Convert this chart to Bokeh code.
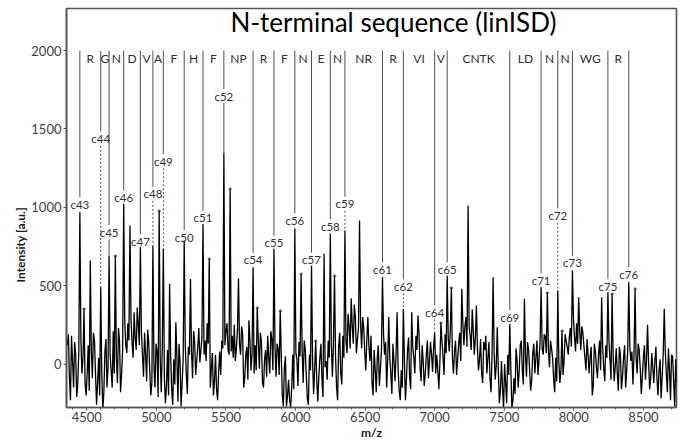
from bokeh.plotting import figure
from bokeh.models import Range1d, SingleIntervalTicker, Label, ColumnDataSource, Title
from bokeh.embed import file_html
from bokeh.resources import INLINE
from bokeh.core.properties import value

# ---------------- data ----------------
# spectrum: main samples every 15 m/z starting at 4360, plus the
# in-between samples (at +7.5 m/z) read from the noise band
MZ_START = 4360
MZ_STEP = 15
intensity = [
    120, -80, 180, -150, 60, -120, 969, -60, 354, -200,
    120, 660, -90, 150, -260, 40, 490, -290, 80, -150,
    690, -40, 210, 692, -120, 150, -60, 1022, 120, 260,
    884, 140, 330, 90, 250, 745, 60, 200, -110, 140,
    -200, 756, -150, 80, 979, -180, 735, -250, 90, 513,
    -160, 30, 267, -240, 20, -120, 788, -60, 110, 543,
    -90, 140, 20, 230, 90, 894, 150, 260, 671, -30,
    -200, 60, -230, 80, 150, 1350, 210, 90, 1118, 180,
    250, 100, 545, 60, 190, -90, 110, 280, -40, 618,
    120, 363, -30, 140, -150, 90, 180, -60, 160, 735,
    -80, 100, 341, -200, -20, -270, -100, -280, 60, 862,
    30, 140, 575, -120, 90, -220, 60, 628, -190, 150,
    -240, 40, -100, 703, 20, 150, 830, -80, 565, -150,
    110, -60, 180, 852, 70, 240, 420, 130, 300, 160,
    916, 100, 230, -40, 300, 20, -120, 90, -180, 120,
    -30, 554, 60, -150, 300, -60, 130, -110, 330, -170,
    -40, 352, -230, 90, -80, 330, 40, 180, 310, -20,
    120, -140, 60, -90, 140, -50, 200, 60, -160, 267,
    50, 190, 565, 80, 490, -60, 150, 30, 200, 480,
    120, 300, 1011, 180, 350, 60, 373, -40, 160, -120,
    90, -60, 140, -180, 554, -100, 235, -250, 20, -290,
    -120, 60, 256, -280, -90, 100, -150, 120, -40, 416,
    -80, 90, -170, 70, -60, 150, 30, 490, 60, 180,
    458, -20, 100, -90, 40, 469, -120, 214, 20, 150,
    60, 230, 597, 170, 260, 426, 90, 200, 40, 160,
    -60, 110, -140, 80, -90, 150, 426, -30, 120, 458,
    30, 448, -110, 100, -170, 60, -80, 120, -40, 522,
    20, -130, 480, -60, 90, -190, 40, -100, 250, -160,
    70, -120, 110, -200, 30, -80, 352, -60, 100, -230,
    50, -270, -120,
]
intensity_mid = [
    190, -230, 20, 140, -210, 80, 150, 40, -120, -60,
    -170, 90, 200, -60, -120, -200, -50, -180, 160, -20,
    60, -150, -60, 40, 230, -180, 90, 280, 70, 150,
    290, 40, 170, 360, 120, 200, -80, 60, 220, -50,
    -120, -20, 130, -210, 30, 110, -90, -140, -200, 60,
    -260, -130, 40, 130, -270, 30, 120, -190, 60, 80,
    210, -70, 110, 10, 170, 60, 20, 130, -150, 70,
    -110, -160, -50, -70, 100, 120, 260, 60, 80, 40,
    20, 210, 130, 240, -150, 60, -100, 150, 70, -60,
    -40, 150, 200, -120, 30, -80, 40, 210, -40, 110,
    130, -70, 60, -270, 50, -200, -230, -150, -160, 70,
    -140, 50, 90, 150, -80, -260, -40, 20, -30, -100,
    -80, 130, -210, -20, -100, 40, 120, 130, 60, -230,
    200, -130, 40, 150, 320, 100, 250, 380, 70, 230,
    260, 300, 80, 160, 110, 180, -200, -30, 40, -140,
    90, 190, 140, 30, 40, -190, 20, 60, -40, -230,
    -150, 20, -90, 170, -160, 110, -60, 90, 190, -110,
    20, -60, 150, 20, 60, 110, -60, -40, 10, 150,
    -70, 70, 160, 220, 40, 80, -70, 130, 20, 260,
    240, 110, 240, 90, 210, 170, 100, 30, -60, 140,
    180, 40, -90, 60, 70, -10, -40, -170, -150, 0,
    -250, -70, -40, -230, -190, 20, -40, 150, -130, 60,
    140, -40, -100, 130, 40, -70, 140, 100, 190, 70,
    90, 150, 40, -180, -110, 10, -40, -70, 190, 110,
    170, 110, 290, 80, 130, 210, 240, 120, -40, 60,
    50, -200, 130, -20, 60, -40, 110, -110, 40, 150,
    -100, 60, -20, -60, 110, -160, 40, -150, 90, 110,
    80, 50, 40, 130, -30, -80, 120, 30, 10, -90,
    -20, 20, -90, -40, -220, 60, 80, -180, -40, 60,
    -110, 30,
]

# c-ion annotations
c_labels = ["c43", "c44", "c45", "c46", "c47", "c48", "c49", "c50", "c51", "c52",
            "c54", "c55", "c56", "c57", "c58", "c59", "c61", "c62", "c64", "c65",
            "c69", "c71", "c72", "c73", "c75", "c76"]
c_mz = [4450, 4600, 4660, 4765, 4885, 4975, 5050, 5200, 5335, 5485,
        5695, 5845, 5995, 6115, 6250, 6355, 6625, 6775, 7000, 7090,
        7540, 7765, 7885, 7990, 8245, 8395]
c_label_int = [1018, 1437, 841, 1060, 784, 1086, 1294, 809, 933, 1709,
               665, 773, 916, 665, 879, 1022, 603, 496, 330, 603,
               299, 533, 947, 646, 496, 571]
c_peak_int = [969, 490, 690, 1022, 745, 756, 735, 788, 894, 1350,
              618, 735, 862, 628, 830, 852, 554, 352, 200, 565,
              256, 490, 469, 597, 458, 522]
c_dashed = [False, True, False, False, False, True, True, False, False, False,
            False, False, False, False, False, True, False, True, True, False,
            False, False, True, False, False, False]

# sequence residues between consecutive c-ions
residues = ["R", "G", "N", "D", "V", "A", "F", "H", "F", "NP", "R", "F", "N",
            "E", "N", "NR", "R", "VI", "V", "CNTK", "LD", "N", "N", "WG", "R"]

# peaks marked with an asterisk
star_mz = [4480, 4705, 5020, 5380, 5530, 5725, 5890, 6040, 6145, 6280,
           7045, 7120, 7810, 7915, 8275, 8440]
star_int = [354, 692, 979, 671, 1118, 363, 341, 575, 150, 565,
            267, 490, 458, 214, 448, 480]

title_text = "N-terminal sequence (linISD)"
x_label = "m/z"
y_label = "Intensity [a.u.]"

# ---------------- styling constants ----------------
FONT = "Lato"
SEQ_TOP = 2000
GAP = 45          # half height of a c-label (data units)
X0, X1 = 4354, 8738
Y0, Y1 = -277, 2268

# interleave main and in-between samples
spec_x, spec_y = [], []
for i, v in enumerate(intensity):
    spec_x.append(MZ_START + MZ_STEP * i)
    spec_y.append(v)
    if i < len(intensity_mid):
        spec_x.append(MZ_START + MZ_STEP * i + MZ_STEP / 2)
        spec_y.append(intensity_mid[i])

p = figure(width=681, height=443, output_backend="svg", toolbar_location=None,
           x_range=Range1d(X0, X1), y_range=Range1d(Y0, Y1),
           min_border_left=66, min_border_right=5, min_border_top=8,
           min_border_bottom=36)
p.grid.visible = False
p.background_fill_color = "white"
p.border_fill_color = "white"
p.outline_line_color = "#555555"
p.outline_line_width = 1.6

# spectrum
p.line(spec_x, spec_y, line_color="black", line_width=1.3)

# upper annotation lines
upper_y1 = [v + GAP for v in c_label_int]
p.segment(x0=c_mz, y0=[SEQ_TOP] * len(c_mz), x1=c_mz, y1=upper_y1,
          line_color="#505050", line_width=1)

# lower lines (solid / dashed)
sol = dict(x=[], y0=[], y1=[])
das = dict(x=[], y0=[], y1=[])
for x, lab, pk, d in zip(c_mz, c_label_int, c_peak_int, c_dashed):
    top = lab - GAP
    if pk < top:
        tgt = das if d else sol
        tgt["x"].append(x)
        tgt["y0"].append(top)
        tgt["y1"].append(pk)
p.segment(x0="x", y0="y0", x1="x", y1="y1", source=ColumnDataSource(sol),
          line_color="#505050", line_width=1)
p.segment(x0="x", y0="y0", x1="x", y1="y1", source=ColumnDataSource(das),
          line_color="#505050", line_width=1, line_dash="2 2")

# c labels
p.text(x=c_mz, y=c_label_int, text=c_labels, text_align="center",
       text_baseline="middle", text_font=value(FONT), text_font_size="11.5px",
       text_color="#303030")

# residues
res_x = [(a + b) / 2 for a, b in zip(c_mz[:-1], c_mz[1:])]
p.text(x=res_x, y=[SEQ_TOP - 50] * len(res_x), text=residues, text_align="center",
       text_baseline="middle", text_font=value(FONT), text_font_size="12px",
       text_color="#303030")

# asterisks
p.text(x=star_mz, y=star_int, text=["*"] * len(star_mz), text_align="center",
       text_baseline="alphabetic", text_font=value(FONT), text_font_size="11px",
       text_color="#303030", y_offset=3)

# title inside plot
p.add_layout(Label(x=6704, y=2179, text=title_text, text_align="center",
                   text_baseline="middle", text_font=FONT, text_font_size="26px",
                   text_color="black"))

# y axis label (offset downwards like the original)
p.add_layout(Title(text=y_label, align="left", offset=125, text_font=FONT,
                   text_font_size="12px", text_font_style="bold",
                   text_color="#202020", standoff=2), "left")

# axes
p.xaxis.ticker = SingleIntervalTicker(interval=500, num_minor_ticks=5)
p.yaxis.ticker = SingleIntervalTicker(interval=500, num_minor_ticks=0)
for ax in (p.xaxis[0], p.yaxis[0]):
    ax.axis_line_color = "#555555"
    ax.axis_line_width = 1.6
    ax.major_tick_line_color = "#555555"
    ax.minor_tick_line_color = "#555555"
    ax.major_tick_in = 0
    ax.major_tick_out = 3
    ax.minor_tick_in = 0
    ax.minor_tick_out = 2
    ax.major_label_text_font = FONT
    ax.major_label_text_font_size = "13px"
    ax.major_label_text_color = "#404040"
    ax.major_label_standoff = 2
p.xaxis.major_label_standoff = 1
p.xaxis.axis_label = x_label
p.xaxis.axis_label_text_font = FONT
p.xaxis.axis_label_text_font_size = "12px"
p.xaxis.axis_label_text_font_style = "bold"
p.xaxis.axis_label_text_color = "#202020"
p.xaxis.axis_label_standoff = 0

open("out.html", "w").write(file_html(p, INLINE))
